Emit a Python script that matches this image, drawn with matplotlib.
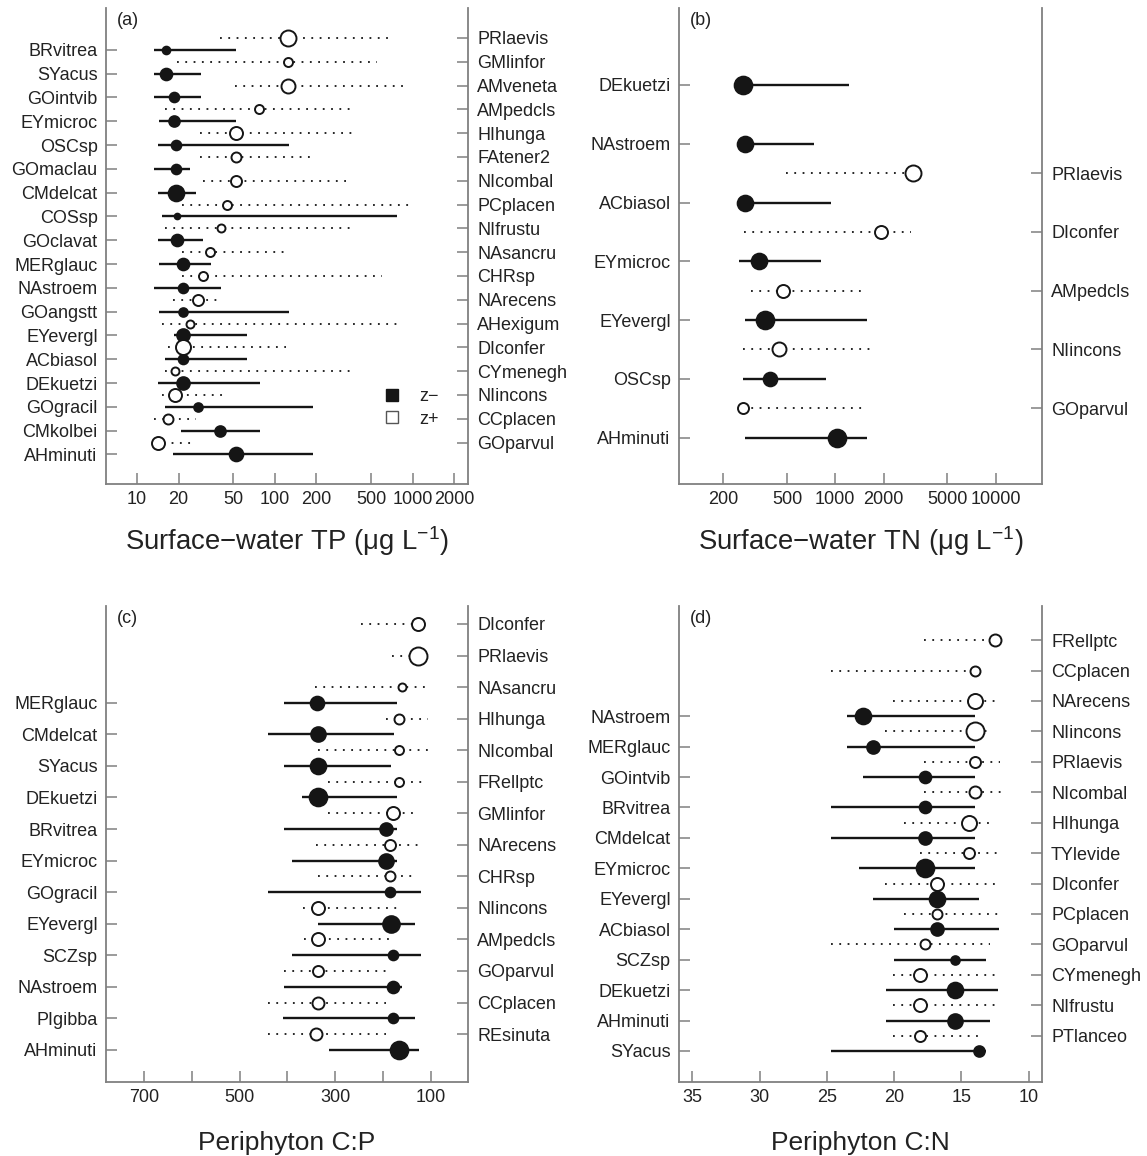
import matplotlib.pyplot as plt
from matplotlib.lines import Line2D
from matplotlib.ticker import NullLocator

plt.rcParams['font.family'] = ['Liberation Sans', 'DejaVu Sans']
plt.rcParams['mathtext.default'] = 'regular'

INK = '#151515'
GRAY = '#808080'
FS = 13

# ---------- (a) surface-water TP, z- taxa (left) and z+ taxa (right)
a_neg_taxa = ['BRvitrea', 'SYacus', 'GOintvib', 'EYmicroc', 'OSCsp', 'GOmaclau',
              'CMdelcat', 'COSsp', 'GOclavat', 'MERglauc', 'NAstroem', 'GOangstt',
              'EYevergl', 'ACbiasol', 'DEkuetzi', 'GOgracil', 'CMkolbei', 'AHminuti']
a_neg_cp = [16.2, 16.2, 18.4, 18.4, 19.1, 19.1, 19.1, 19.5, 19.5, 21.7, 21.4, 21.4,
            21.7, 21.4, 21.7, 27.7, 40.0, 51.9]
a_neg_q05 = [13.3, 13.3, 13.3, 14.5, 14.2, 13.3, 14.2, 15.3, 14.2, 14.5, 13.3, 14.5,
             18.4, 15.9, 14.2, 15.9, 20.9, 18.1]
a_neg_q95 = [52.3, 29.2, 29.2, 52.3, 126, 24.3, 26.7, 773, 30.3, 34.5, 40.8, 126,
             62.4, 62.4, 77.8, 189, 77.8, 189]
a_neg_z = [8, 12, 10, 11, 10, 10, 16, 6, 12, 12, 10, 9, 13, 10, 13, 9, 11, 14]

a_pos_taxa = ['PRlaevis', 'GMlinfor', 'AMveneta', 'AMpedcls', 'HIhunga', 'FAtener2',
              'NIcombal', 'PCplacen', 'NIfrustu', 'NAsancru', 'CHRsp', 'NArecens',
              'AHexigum', 'DIconfer', 'CYmenegh', 'NIincons', 'CCplacen', 'GOparvul']
a_pos_cp = [124, 125, 124, 77.2, 52.3, 52.3, 52.3, 44.8, 40.4, 34.0, 30.0, 27.9,
            24.2, 21.6, 18.9, 18.9, 16.9, 14.1]
a_pos_q05 = [40.1, 19.5, 51.3, 16.0, 28.7, 28.7, 30.0, 21.1, 16.0, 21.1, 21.1, 18.1,
             15.2, 16.7, 16.0, 15.2, 13.3, 13.5]
a_pos_q95 = [721, 553, 923, 359, 366, 182, 337, 952, 359, 120, 599, 40.8,
             767, 120, 366, 43.5, 26.9, 26.9]
a_pos_z = [16, 9, 14, 9, 13, 10, 11, 9, 8, 9, 9, 11, 8, 15, 8, 13, 10, 13]

# ---------- (b) surface-water TN
b_neg_taxa = ['DEkuetzi', 'NAstroem', 'ACbiasol', 'EYmicroc', 'EYevergl', 'OSCsp', 'AHminuti']
b_neg_cp = [264, 274, 274, 334, 367, 391, 1026]
b_neg_q05 = [264, 274, 274, 251, 274, 267, 274]
b_neg_q95 = [1216, 736, 934, 818, 1567, 877, 1567]
b_neg_z = [18, 16, 16, 16, 18, 14, 18]

b_pos_taxa = ['PRlaevis', 'DIconfer', 'AMpedcls', 'NIincons', 'GOparvul']
b_pos_cp = [3033, 1915, 470, 448, 264]
b_pos_q05 = [490, 271, 297, 267, 264]
b_pos_q95 = [3033, 2953, 1462, 1769, 1510]
b_pos_z = [16, 13, 13, 14, 11]

# ---------- (c) periphyton C:P
c_neg_taxa = ['MERglauc', 'CMdelcat', 'SYacus', 'DEkuetzi', 'BRvitrea', 'EYmicroc',
              'GOgracil', 'EYevergl', 'SCZsp', 'NAstroem', 'PIgibba', 'AHminuti']
c_neg_cp = [339, 337, 337, 336, 193, 193, 185, 183, 179, 179, 179, 166]
c_neg_q05 = [408, 440, 408, 370, 408, 391, 440, 337, 391, 408, 410, 314]
c_neg_q95 = [171, 176, 183, 171, 171, 171, 121, 134, 121, 160, 134, 125]
c_neg_z = [14, 15, 16, 18, 13, 15, 10, 17, 10, 12, 10, 18]

c_pos_taxa = ['DIconfer', 'PRlaevis', 'NAsancru', 'HIhunga', 'NIcombal', 'FRellptc',
              'GMlinfor', 'NArecens', 'CHRsp', 'NIincons', 'AMpedcls', 'GOparvul',
              'CCplacen', 'REsinuta']
c_pos_cp = [127, 127, 160, 167, 167, 167, 179, 185, 185, 336, 336, 337, 337, 341]
c_pos_q05 = [246, 181, 343, 193, 336, 316, 316, 341, 337, 368, 366, 408, 440, 440]
c_pos_q95 = [127, 127, 109, 105, 105, 112, 127, 123, 132, 167, 176, 190, 194, 194]
c_pos_z = [13, 18, 8, 10, 9, 9, 13, 11, 10, 13, 13, 11, 12, 12]

# ---------- (d) periphyton C:N
d_neg_taxa = ['NAstroem', 'MERglauc', 'GOintvib', 'BRvitrea', 'CMdelcat', 'EYmicroc',
              'EYevergl', 'ACbiasol', 'SCZsp', 'DEkuetzi', 'AHminuti', 'SYacus']
d_neg_cp = [22.3, 21.6, 17.7, 17.7, 17.7, 17.7, 16.8, 16.8, 15.5, 15.5, 15.5, 13.7]
d_neg_q05 = [23.5, 23.5, 22.3, 24.7, 24.7, 22.6, 21.6, 20.0, 20.0, 20.6, 20.6, 24.7]
d_neg_q95 = [14.0, 14.0, 14.0, 14.0, 14.0, 14.0, 13.7, 12.2, 13.2, 12.3, 12.9, 13.2]
d_neg_z = [16, 13, 12, 12, 13, 18, 16, 13, 9, 16, 15, 11]

d_pos_taxa = ['FRellptc', 'CCplacen', 'NArecens', 'NIincons', 'PRlaevis', 'NIcombal',
              'HIhunga', 'TYlevide', 'DIconfer', 'PCplacen', 'GOparvul', 'CYmenegh',
              'NIfrustu', 'PTlanceo']
d_pos_cp = [12.5, 14.0, 14.0, 14.0, 14.0, 14.0, 14.4, 14.4, 16.8, 16.8, 17.7, 18.1,
            18.1, 18.1]
d_pos_q05 = [17.8, 24.7, 20.1, 20.7, 17.8, 17.8, 19.3, 18.1, 20.7, 19.3, 24.7, 20.1,
             20.1, 20.1]
d_pos_q95 = [11.6, 14.0, 12.3, 12.9, 12.1, 11.6, 12.6, 12.3, 12.4, 12.1, 12.9, 12.3,
             12.3, 13.4]
d_pos_z = [12, 10, 15, 18, 11, 12, 15, 11, 13, 10, 10, 13, 13, 11]


def draw_panel(ax, neg, pos, neg_off, pos_off, ylim, tag):
    n_taxa, n_cp, n_lo, n_hi, n_z = neg
    p_taxa, p_cp, p_lo, p_hi, p_z = pos
    yn = [i + neg_off for i in range(len(n_taxa))]
    yp = [j + pos_off for j in range(len(p_taxa))]

    for y, lo, hi in zip(yn, n_lo, n_hi):
        ax.plot([lo, hi], [y, y], color=INK, lw=1.7, solid_capstyle='butt', zorder=2)
    for y, lo, hi in zip(yp, p_lo, p_hi):
        ax.plot([lo, hi], [y, y], color=INK, lw=1.3, ls=(0, (1, 3.6)), zorder=2)
    for y, c, z in zip(yn, n_cp, n_z):
        ax.plot(c, y, 'o', ms=z * 0.72, mfc=INK, mec=INK, mew=1.2, zorder=3)
    for y, c, z in zip(yp, p_cp, p_z):
        ax.plot(c, y, 'o', ms=z * 0.72, mfc='white', mec=INK, mew=1.4, zorder=3)

    ax.set_ylim(ylim)
    ax.set_yticks(yn)
    ax.set_yticklabels(n_taxa)
    axr = ax.twinx()
    axr.set_ylim(ylim)
    axr.set_yticks(yp)
    axr.set_yticklabels(p_taxa)

    ax.spines['top'].set_visible(False)
    ax.spines['right'].set_visible(False)
    for s in ['top', 'left', 'bottom']:
        axr.spines[s].set_visible(False)
    for s in [ax.spines['left'], ax.spines['bottom'], axr.spines['right']]:
        s.set_color(GRAY)
        s.set_linewidth(1.3)

    ax.tick_params(axis='both', direction='in', length=8, width=1.1, color=GRAY,
                   labelsize=FS, labelcolor='#222222')
    ax.tick_params(axis='y', pad=6)
    ax.tick_params(axis='x', pad=5)
    axr.tick_params(axis='y', direction='in', length=8, width=1.1, color=GRAY,
                    labelsize=FS, labelcolor='#222222', pad=6.5)
    ax.text(0.03, 0.973, tag, transform=ax.transAxes, fontsize=FS,
            va='center', ha='left', color='#222222')
    return axr


W, H = 1147, 1156
fig = plt.figure(figsize=(W / 100, H / 100), dpi=100)


def rect(l, r, t, b):
    return [l / W, 1 - b / H, (r - l) / W, (b - t) / H]


ax_a = fig.add_axes(rect(106, 468, 8, 484))
ax_b = fig.add_axes(rect(679, 1042, 8, 484))
ax_c = fig.add_axes(rect(106, 468, 606, 1082))
ax_d = fig.add_axes(rect(679, 1042, 606, 1082))

# (a)
ax_a.set_xscale('log')
draw_panel(ax_a, (a_neg_taxa, a_neg_cp, a_neg_q05, a_neg_q95, a_neg_z),
           (a_pos_taxa, a_pos_cp, a_pos_q05, a_pos_q95, a_pos_z),
           0.5, 0.0, (18.74, -1.26), '(a)')
ax_a.set_xlim(5.96, 2510)
ax_a.set_xticks([10, 20, 50, 100, 200, 500, 1000, 2000])
ax_a.set_xticklabels(['10', '20', '50', '100', '200', '500', '1000', '2000'])
ax_a.xaxis.set_minor_locator(NullLocator())
ax_a.set_xlabel('Surface\u2212water TP (\u03bcg L$^{-1}$)', fontsize=19.8, labelpad=12,
                color='#222222')
leg = ax_a.legend(handles=[
    Line2D([], [], ls='none', marker='s', ms=9, mfc=INK, mec=INK),
    Line2D([], [], ls='none', marker='s', ms=9, mfc='white', mec='#555555', mew=1.0)],
    labels=['z\u2212', 'z+'], loc='center left', bbox_to_anchor=(0.72, 0.16),
    frameon=False, fontsize=FS, handlelength=1.0, handletextpad=1.0,
    labelspacing=0.3)
for t in leg.get_texts():
    t.set_color('#222222')

# (b)
ax_b.set_xscale('log')
draw_panel(ax_b, (b_neg_taxa, b_neg_cp, b_neg_q05, b_neg_q95, b_neg_z),
           (b_pos_taxa, b_pos_cp, b_pos_q05, b_pos_q95, b_pos_z),
           0.0, 1.5, (6.79, -1.31), '(b)')
ax_b.set_xlim(106, 19450)
ax_b.set_xticks([200, 500, 1000, 2000, 5000, 10000])
ax_b.set_xticklabels(['200', '500', '1000', '2000', '5000', '10000'])
ax_b.xaxis.set_minor_locator(NullLocator())
ax_b.set_xlabel('Surface\u2212water TN (\u03bcg L$^{-1}$)', fontsize=19.8, labelpad=12,
                color='#222222')

# (c)
draw_panel(ax_c, (c_neg_taxa, c_neg_cp, c_neg_q05, c_neg_q95, c_neg_z),
           (c_pos_taxa, c_pos_cp, c_pos_q05, c_pos_q95, c_pos_z),
           2.5, 0.0, (14.52, -0.57), '(c)')
ax_c.set_xlim(780, 22)
ax_c.set_xticks([700, 600, 500, 400, 300, 200, 100])
ax_c.set_xticklabels(['700', '', '500', '', '300', '', '100'])
ax_c.set_xlabel('Periphyton C:P', fontsize=19, labelpad=18, color='#222222')

# (d)
draw_panel(ax_d, (d_neg_taxa, d_neg_cp, d_neg_q05, d_neg_q95, d_neg_z),
           (d_pos_taxa, d_pos_cp, d_pos_q05, d_pos_q95, d_pos_z),
           2.5, 0.0, (14.52, -1.12), '(d)')
ax_d.set_xlim(36, 9)
ax_d.set_xticks([35, 30, 25, 20, 15, 10])
ax_d.set_xlabel('Periphyton C:N', fontsize=19, labelpad=18, color='#222222')

fig.savefig('out.png', dpi=100)
